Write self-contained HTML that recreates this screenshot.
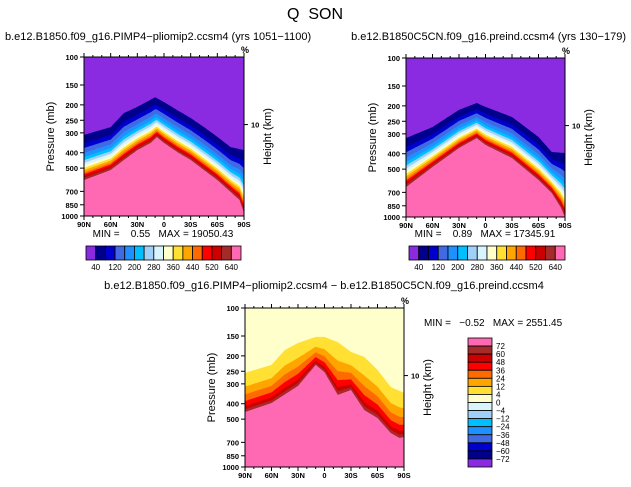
<!DOCTYPE html>
<html><head><meta charset="utf-8"><style>
body{margin:0;background:#fff;}
svg{display:block;font-family:"Liberation Sans",sans-serif;}
svg text{white-space:pre;}
</style></head><body>
<svg id="fig" width="631" height="487" viewBox="0 0 631 487" xmlns="http://www.w3.org/2000/svg">
<text x="315" y="19" font-size="16" text-anchor="middle">Q  SON</text>
</svg>
<script>
// ---- data (pressures in mb) ----
const leftTopLats=[90,60,45,30,10,0,-15,-30,-45,-60,-75,-90];
const leftTopP=[309,276,225,206,179,192,216,242,276,318,369,385];
const leftPinkLats=[90,60,45,30,15,8,0,-15,-30,-45,-60,-75,-85,-90];
const leftPinkP=[594,514,444,385,347,319,347,396,444,514,594,706,793,958];
const rightTopLats=[90,60,30,10,0,-30,-60,-75,-90];
const rightTopP=[319,272,212,192,203,235,314,390,396];
const rightPinkLats=[90,60,30,10,0,-30,-60,-75,-85,-90];
const rightPinkP=[649,485,368,319,352,426,585,706,865,1000];
const diffTopLats=[90,60,45,30,10,0,-15,-30,-45,-60,-75,-90];
const diffTopP=[256,228,184,166,152,152,164,189,203,245,314,342];
const diffPinkLats=[90,60,30,10,0,-15,-30,-45,-60,-75,-85,-90];
const diffPinkP=[451,396,309,228,253,352,328,438,492,611,657,648];
const absColors=["#8a2be2","#00008b","#0000cd","#4169e1","#1e90ff","#00bfff","#a0d0f8","#d8f4fc","#ffffcc","#ffe033","#ffa500","#ff6a00","#ff0000","#cc0000","#a52a2a","#ff69b4"];
const absLabels=["40","120","200","280","360","440","520","640"];
const diffColors=["#ffffcc","#ffe033","#ffa500","#ff6a00","#ff0000","#cc0000","#a52a2a","#ff69b4"];
const diffBarColors=["#ff69b4","#a52a2a","#cc0000","#ff0000","#ff6a00","#ffa500","#ffe033","#ffffcc","#d8f4fc","#a0d0f8","#00bfff","#1e90ff","#4169e1","#0000cd","#00008b","#8a2be2"];
const diffLabels=["72","60","48","36","24","12","4","0","-4","-12","-24","-36","-48","-60","-72"];
const absFrac=[0,0.18,0.29,0.40,0.49,0.56,0.62,0.68,0.73,0.78,0.83,0.87,0.91,0.95,1.0];
const diffFrac=[0,0.35,0.55,0.72,0.85,0.93,1.0];
const pTicks=[100,150,200,250,300,400,500,700,850,1000];
const latTicks=[90,60,30,0,-30,-60,-90];

const NS="http://www.w3.org/2000/svg";
const svg=document.getElementById('fig');
function mk(tag,attrs,parent){const e=document.createElementNS(NS,tag);for(const k in attrs)e.setAttribute(k,attrs[k]);(parent||svg).appendChild(e);return e;}
function interp(lats,vals,lat){for(let i=0;i<lats.length-1;i++){const a=lats[i],b=lats[i+1];if(lat<=a&&lat>=b){const t=(a-lat)/(a-b||1);return Math.log(vals[i])*(1-t)+Math.log(vals[i+1])*t;}}return Math.log(vals[vals.length-1]);}
function latLabel(l){return l===0?"0":(Math.abs(l)+(l>0?"N":"S"));}

function panel(name,L,T,W,H,topLats,topP,pinkLats,pinkP,colors,fracs,bgColor){
  const g=mk('g',{});
  
  
  const xs=v=>L+(90-v)/180*W;
  const ys=lp=>T+(lp-Math.log(100))/Math.log(10)*H;
  const bg=mk('rect',{x:L,y:T,width:W,height:H,fill:bgColor},g);
  
  
  for(let k=0;k<fracs.length;k++){
    let d="";
    for(let lat=90;lat>=-90;lat-=1){
      const a=interp(topLats,topP,lat),b=interp(pinkLats,pinkP,lat);
      const lp=a+(b-a)*fracs[k];
      d+=(lat===90?"M":"L")+xs(lat).toFixed(1)+","+Math.min(ys(lp),T+H).toFixed(1);
    }
    d+="L"+(L+W)+","+(T+H)+"L"+L+","+(T+H)+"Z";
    const p=mk('path',{d:d,fill:colors[k+1]},g);
    
    
  }
  const fr=mk('rect',{x:L,y:T,width:W,height:H,fill:'none',stroke:'#000','stroke-width':1},g);
  
  
  pTicks.forEach(p=>{const y=ys(Math.log(p));
    mk('line',{x1:L-4,x2:L,y1:y,y2:y,stroke:'#000'},g);
    const t=mk('text',{x:L-6,y:y+3,'font-size':7.5,'font-weight':'bold','text-anchor':'end'},g);t.textContent=p;
    });
  for(let l=90;l>=-90;l-=10){const x=xs(l);const maj=l%30===0;
    mk('line',{x1:x,x2:x,y1:T+H,y2:T+H+(maj?4:2),stroke:'#000'},g);
    mk('line',{x1:x,x2:x,y1:T,y2:T-(maj?4:2),stroke:'#000'},g);}
  latTicks.forEach(l=>{const t=mk('text',{x:xs(l),y:T+H+11,'font-size':7.5,'font-weight':'bold','text-anchor':'middle'},g);t.textContent=latLabel(l);
    });
  const yt=mk('text',{transform:`translate(${L-30},${T+H/2}) rotate(-90)`,'font-size':11,'text-anchor':'middle'},g);yt.textContent="Pressure (mb)";
  
  const ry=T+H*0.425;mk('line',{x1:L+W,x2:L+W+4,y1:ry,y2:ry,stroke:'#000'},g);
  const r10=mk('text',{x:L+W+7,y:ry+3,'font-size':7.5,'font-weight':'bold'},g);r10.textContent="10";
  
  const rt=mk('text',{transform:`translate(${L+W+27},${T+H/2}) rotate(-90)`,'font-size':11,'text-anchor':'middle'},g);rt.textContent="Height (km)";
  
  const pc=mk('text',{x:L+W-3,y:T-4,'font-size':9,'font-weight':'bold'},g);pc.textContent="%";
  
}
function text(s,x,y,size,anchor,name){const t=mk('text',{x:x,y:y,'font-size':size,'text-anchor':anchor||'start'});t.textContent=s;
  return t;}
function hbar(name,L,T,W,H,colors,labels){
  const g=mk('g',{});
  const bw=W/colors.length;
  colors.forEach((c,i)=>{const r=mk('rect',{x:L+i*bw,y:T,width:bw,height:H,fill:c,stroke:'#000','stroke-width':0.8},g);
    });
  labels.forEach((s,i)=>{const t=mk('text',{x:L+(2*i+1)*bw,y:T+H+10,'font-size':8,'text-anchor':'middle'},g);t.textContent=s;
    });
}
function vbar(name,L,T,W,H,colors,labels){
  const g=mk('g',{});
  const bh=H/colors.length;
  colors.forEach((c,i)=>{const r=mk('rect',{x:L,y:T+i*bh,width:W,height:bh,fill:c,stroke:'#000','stroke-width':0.8},g);
    });
  labels.forEach((s,i)=>{const t=mk('text',{x:L+W+4,y:T+(i+1)*bh+3,'font-size':8},g);t.textContent=s.replace('-','\u2212');
    });
}
panel('panel-pliomip',84,57,160,159,leftTopLats,leftTopP,leftPinkLats,leftPinkP,absColors,absFrac,absColors[0]);
panel('panel-preind',406,58,159,159,rightTopLats,rightTopP,rightPinkLats,rightPinkP,absColors,absFrac,absColors[0]);
panel('panel-difference',245,308,159,159,diffTopLats,diffTopP,diffPinkLats,diffPinkP,diffColors,diffFrac,diffColors[0]);
text("b.e12.B1850.f09_g16.PIMP4\u2212pliomip2.ccsm4 (yrs 1051\u22121100)",5,40,11,'start','left-subtitle');
text("b.e12.B1850C5CN.f09_g16.preind.ccsm4 (yrs 130\u2212179)",626,40,11,'end','right-subtitle');
text("MIN =    0.55   MAX = 19050.43",163,237,10,'middle','left-min-max');
text("MIN =    0.89   MAX = 17345.91",485,237,10,'middle','right-min-max');
text("b.e12.B1850.f09_g16.PIMP4\u2212pliomip2.ccsm4 \u2212 b.e12.B1850C5CN.f09_g16.preind.ccsm4",324,289,11,'middle','difference-subtitle');
text("MIN =   \u22120.52   MAX = 2551.45",424,326,10,'start','difference-min-max');
hbar('left-colorbar',86,246,155,14,absColors,absLabels);
hbar('right-colorbar',409,246,156,14,absColors,absLabels);
vbar('difference-colorbar',468,338,24,129,diffBarColors,diffLabels);
</script>
</body></html>
